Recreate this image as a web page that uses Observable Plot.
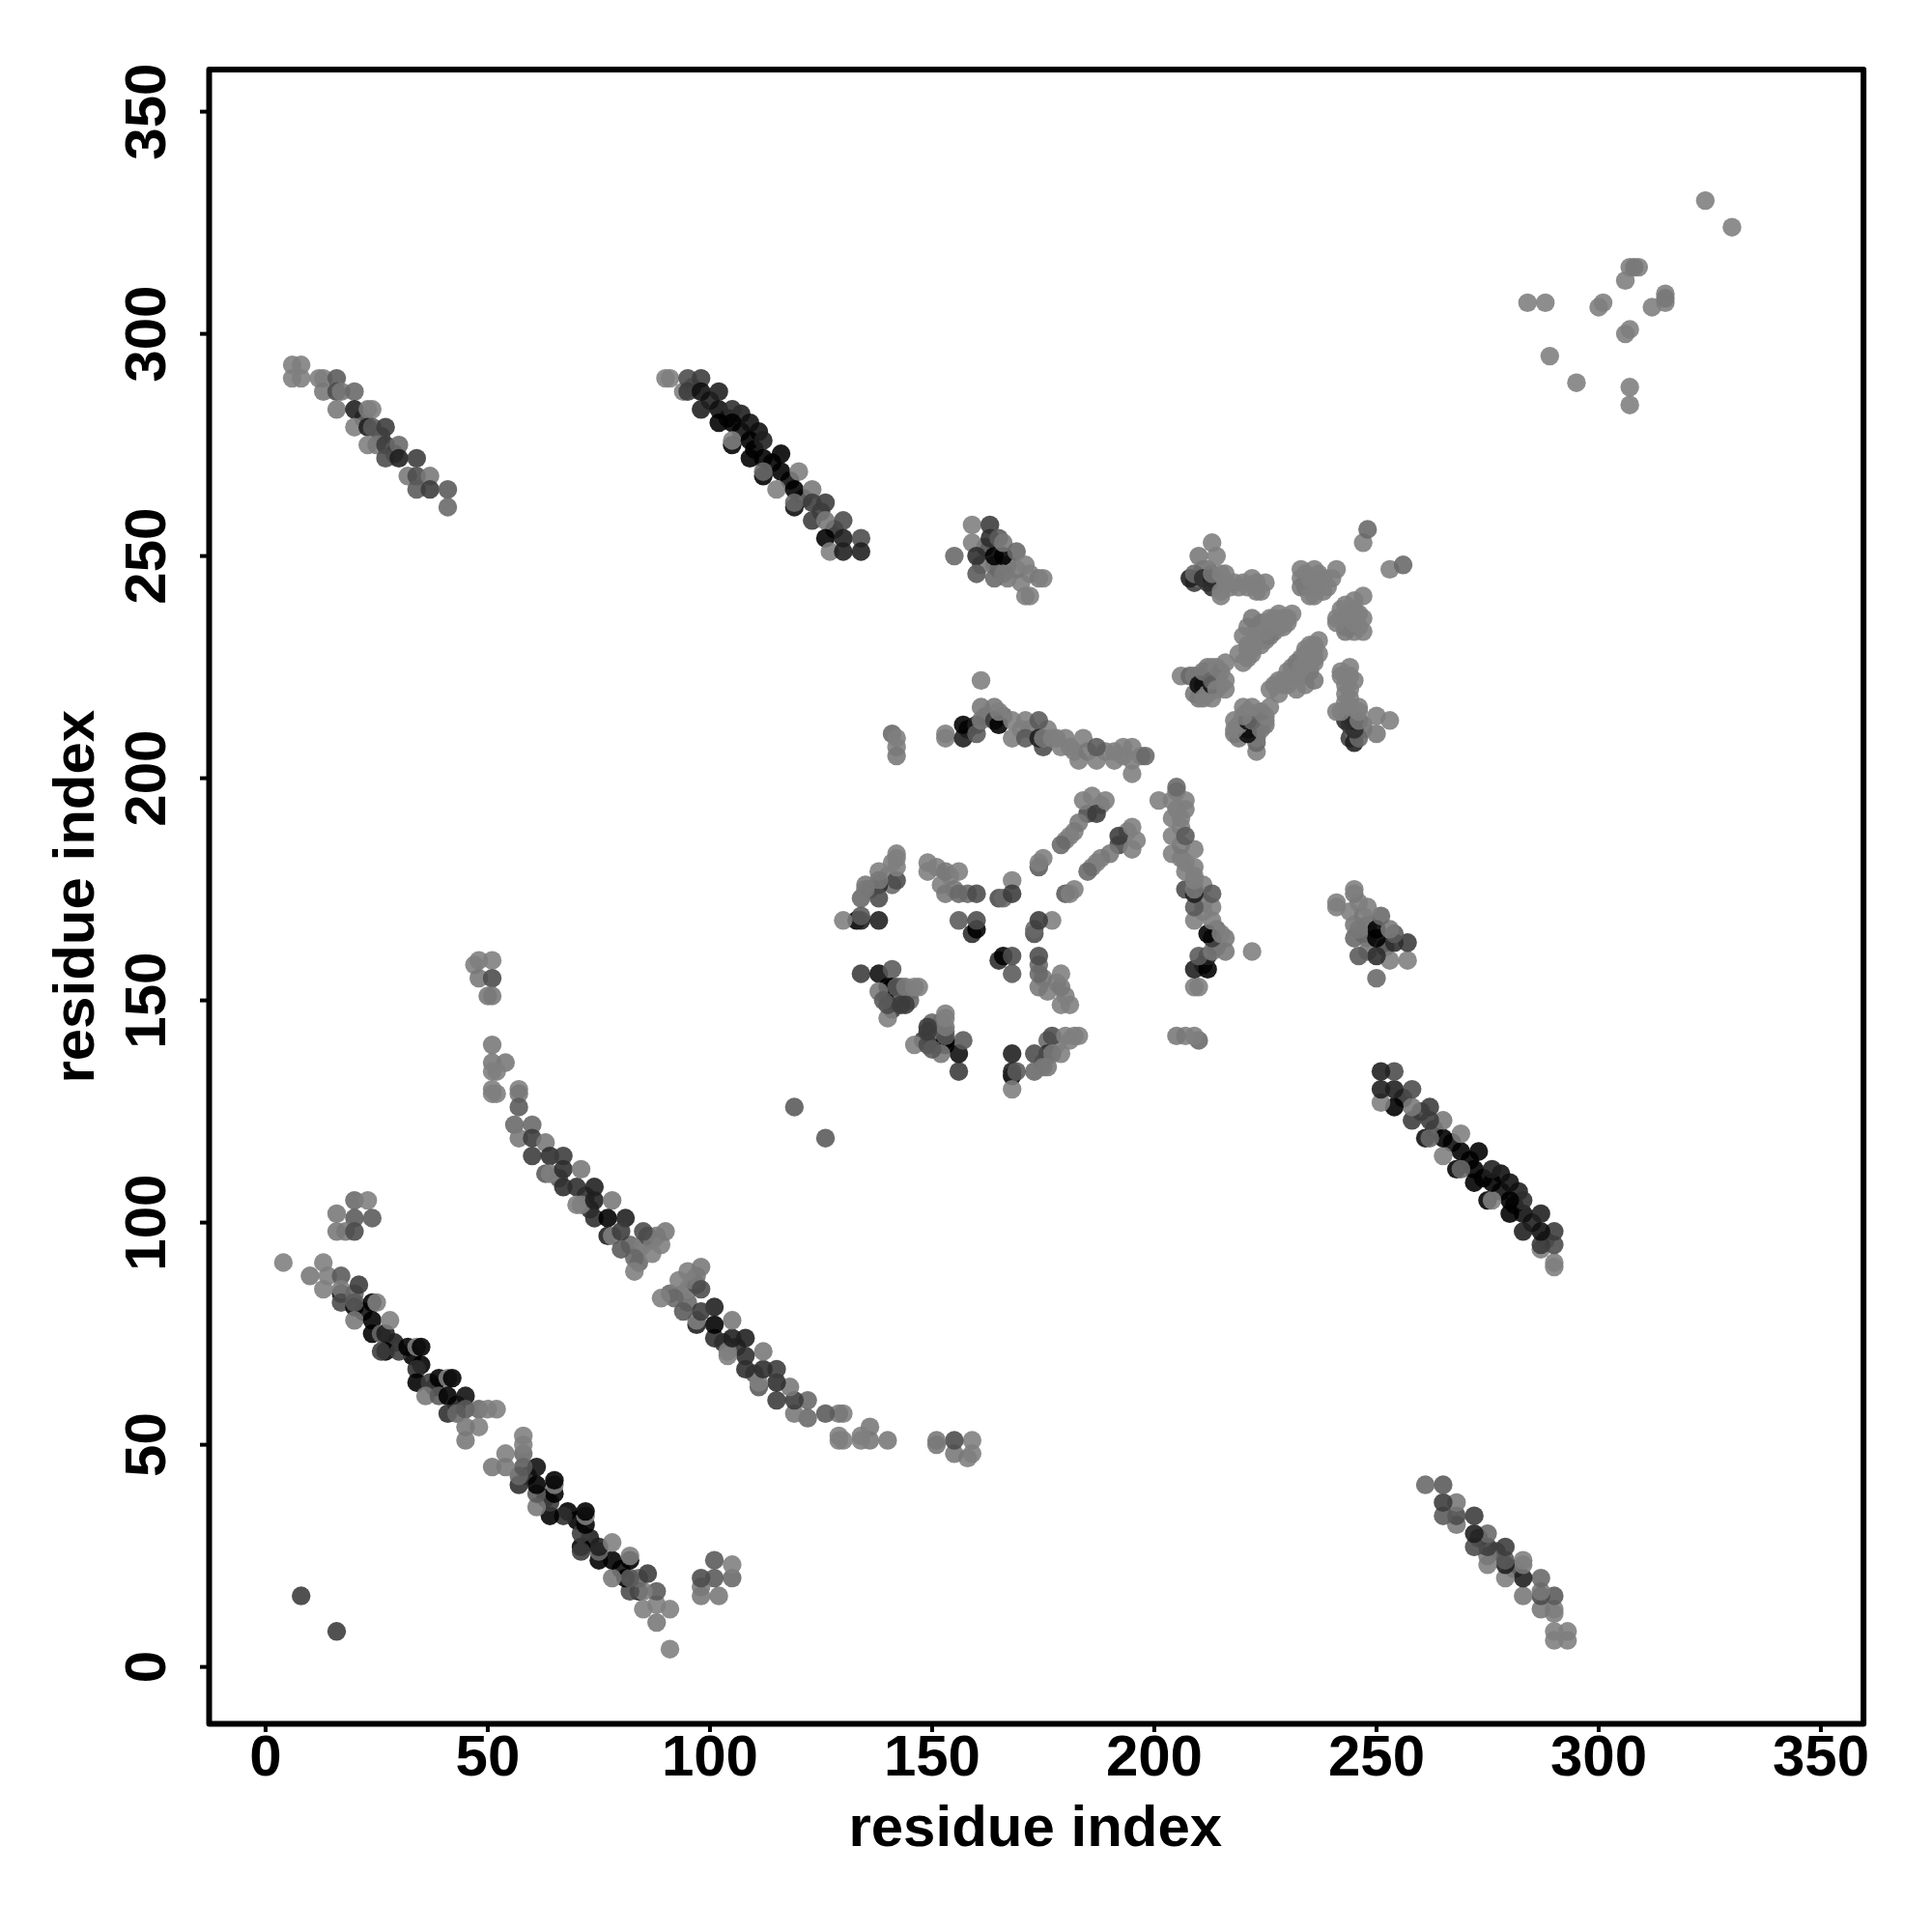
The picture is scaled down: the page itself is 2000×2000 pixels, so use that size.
<!DOCTYPE html>
<html>
<head>
<meta charset="utf-8">
<script src="https://cdn.jsdelivr.net/npm/d3@7"></script>
<script src="https://cdn.jsdelivr.net/npm/@observablehq/plot@0.6"></script>
<style>
html,body{margin:0;padding:0;background:#fff}
svg{display:block;overflow:visible}
</style>
</head>
<body>
<div id="chart"></div>
<script>
// Each contact is [residue i, residue j, score]; i < j, the map is symmetric.
// score: 0 = weakest (lightest) ... 10 = strongest (darkest)
const underlying = [[22,281,5],[26,277,5],[29,273,4],[96,288,6],[100,285,8],[104,281,9],[107,278,9],[107,282,8],[111,278,9],[110,274,10],[114,271,10],[118,267,9],[121,263,5],[125,260,6],[128,256,7],[82,95,3],[84,94,2],[85,95,1],[83,92,3],[86,97,5],[87,96,2],[88,97,2],[73,103,7],[72,106,7],[66,110,4],[22,80,9],[29,73,8],[33,70,10],[38,63,9],[43,59,8],[166,214,3],[170,211,2],[172,211,2],[176,211,1],[178,209,1],[181,207,1],[182,206,1],[189,206,1],[193,205,1],[193,207,1],[197,205,2],[162,214,2],[158,211,8],[182,188,1],[180,186,1],[188,194,1],[175,182,1],[221,230,1],[223,234,1],[224,235,1],[225,231,1],[227,233,1],[229,236,1],[227,236,1],[225,235,1],[221,234,1],[219,228,1],[221,229,1],[234,246,1],[236,243,1],[234,243,1],[237,246,1],[238,245,1],[240,245,1],[236,241,1],[212,247,2],[212,244,6],[214,244,7],[216,246,1],[218,244,1],[219,243,1],[220,244,1],[223,244,1],[211,247,1],[209,244,6],[210,245,3],[210,223,1],[212,223,2],[212,225,2],[214,223,2],[215,221,1],[213,225,1],[209,219,2],[210,218,2],[213,218,1],[161,248,2],[162,252,5],[164,248,2],[165,247,3],[167,248,2],[167,245,2],[170,244,1],[172,246,1],[141,150,5],[142,151,3],[140,151,8],[141,148,6],[143,152,1],[145,152,1],[145,150,3],[143,153,3],[136,175,4],[141,176,3],[140,178,1],[141,181,1],[152,176,1],[151,180,1],[154,178,1],[155,175,2],[158,174,3]];
const strandA = [[6,293,1],[8,293,1],[6,290,1],[8,290,1],[12,290,1],[13,290,1],[16,290,4],[13,287,2],[16,287,5],[17,287,2],[20,287,3],[16,283,2],[20,283,8],[23,283,2],[24,283,1],[20,279,1],[23,279,8],[24,279,4],[27,279,6],[23,275,1],[25,275,2],[27,275,6],[30,275,3],[27,272,5],[30,272,8],[34,272,6],[32,268,2],[34,268,5],[37,268,2],[34,265,4],[37,265,6],[41,265,4],[41,261,3]];
const strandB = [[90,290,0],[91,290,0],[94,287,1],[95,290,5],[98,290,6],[95,287,6],[98,283,8],[98,287,9],[102,287,8],[102,283,9],[105,283,7],[102,280,10],[105,280,10],[109,280,9],[105,275,10],[105,276,1],[109,276,10],[112,276,8],[109,272,10],[112,272,10],[116,273,10],[116,269,10],[112,268,10],[112,269,3],[120,269,1],[115,265,1],[119,265,10],[119,261,9],[119,262,3],[123,265,2],[123,262,6],[126,262,6],[123,258,6],[126,258,2],[130,258,5],[126,254,10],[130,254,8],[134,254,5],[127,251,1],[130,251,8],[134,251,8]];
const strandC = [[47,158,1],[48,159,1],[51,159,1],[48,155,2],[51,155,5],[50,151,2],[51,151,2],[51,140,2],[51,136,2],[54,136,2],[51,134,1],[52,134,1],[51,129,1],[52,129,1],[51,130,1],[57,130,1],[57,129,2],[57,126,4],[56,122,3],[60,122,3],[57,119,2],[60,119,6],[60,115,6],[63,118,2],[64,115,7],[63,111,4],[64,111,1],[67,115,6],[67,112,7],[67,108,7],[71,112,2],[70,108,7],[74,108,8],[70,104,1],[71,104,1],[74,105,8],[74,101,7],[78,105,2],[77,101,10],[81,101,8],[77,97,8],[78,97,1],[80,98,6],[80,94,4],[85,98,5],[84,91,3],[83,89,1],[87,93,1],[89,95,1],[90,98,2]];
const strandD = [[4,91,1],[10,88,2],[13,91,0],[14,88,1],[13,85,1],[17,88,4],[17,84,9],[17,85,1],[17,82,5],[20,84,3],[21,86,6],[20,81,10],[20,82,4],[20,78,2],[24,82,10],[25,82,1],[24,78,10],[24,75,10],[26,75,3],[27,75,8],[28,78,0],[27,71,10],[26,71,6],[30,71,6],[32,72,10],[34,72,1],[35,72,10],[35,68,10],[34,67,7],[34,64,10],[37,64,6],[39,65,10],[41,65,1],[42,65,10],[36,61,2],[39,61,4],[41,61,10],[45,61,9],[41,57,7],[43,57,3],[45,58,4],[48,58,3],[50,58,1],[52,58,0],[48,54,1],[45,54,2],[45,51,2]];
const sidePatch = [[20,105,3],[23,105,1],[16,102,2],[20,101,4],[24,101,4],[16,98,2],[18,98,2],[20,98,5]];
const isolated = [[8,16,6],[119,126,4],[161,222,1],[141,210,3],[142,209,1],[142,207,1],[142,205,2]];
const patchE = [[155,250,3],[159,257,1],[159,253,1],[163,257,6],[163,254,7],[160,250,7],[160,246,4],[164,250,10],[166,250,10],[165,254,4],[166,253,2],[169,251,3],[164,245,3],[166,246,2],[169,247,2],[171,248,1],[174,245,2],[175,245,1],[171,241,1],[172,241,0]];
const strandF = [[153,209,1],[153,210,1],[157,209,8],[157,212,10],[160,212,8],[160,210,4],[161,216,2],[164,216,2],[161,213,2],[164,213,6],[165,212,10],[165,215,1],[168,213,1],[171,213,1],[168,209,1],[171,209,4],[174,213,4],[175,207,5],[174,209,8],[175,209,2],[177,209,1],[180,209,1],[179,207,1],[184,209,1],[183,204,1],[185,206,2],[187,204,1],[187,207,4],[191,206,1],[191,204,1],[195,201,0],[195,207,1],[195,204,1],[198,205,3]];
const strandG = [[185,192,5],[187,192,6],[184,195,1],[186,196,1],[189,195,1],[183,190,2],[181,187,1],[179,185,3],[174,180,4],[174,181,1]];
const patchH = [[142,177,5],[142,180,1],[142,182,1],[142,183,1],[138,176,7],[138,179,1],[135,176,2],[138,177,2],[138,173,5],[134,173,3],[135,175,2],[133,168,10],[134,168,8],[134,169,4],[138,168,8],[130,168,1]];
const patchJ = [[149,181,1],[149,179,1],[153,179,2],[156,179,1],[153,174,2],[156,174,3],[160,174,5],[156,168,4],[159,165,7],[160,166,10],[160,168,5],[168,177,1],[165,173,5],[166,173,3],[168,174,6]];
const patchK = [[134,156,6],[138,156,9],[141,157,4],[140,153,10],[141,153,10],[138,152,2],[142,153,4],[144,153,2],[147,153,0],[140,146,1],[144,149,6],[140,149,5],[143,149,6],[139,150,4],[146,153,1]];
const patchL = [[208,245,8],[209,246,3],[210,250,2],[213,253,1],[214,250,1],[211,245,7],[213,245,8],[213,243,7],[213,246,2],[215,246,1],[215,241,1],[215,242,1],[216,244,1],[217,243,0],[221,243,1],[222,245,1],[223,242,1],[225,244,1],[224,242,0]];
const bandM = [[220,226,1],[221,227,1],[222,228,1],[222,229,1],[220,232,1],[223,232,1],[224,230,1],[224,231,1],[226,232,2],[222,236,2],[225,233,1],[226,236,1],[228,234,1],[228,237,1],[229,234,1],[230,235,0],[230,236,0],[231,237,0]];
const patchN = [[206,223,1],[208,223,3],[209,223,2],[210,221,9],[211,221,9],[211,224,2],[211,218,1],[212,219,1],[213,221,9],[213,222,3],[214,220,1],[214,225,1],[215,224,2],[216,220,1],[216,222,1],[216,226,1]];
const patchO = [[233,247,1],[236,247,1],[241,247,1],[233,245,1],[233,243,2],[235,245,1],[235,241,1],[237,244,1],[238,242,0],[239,243,0],[247,253,1],[248,256,3]];
const patchP = [[284,307,0],[288,307,0],[289,295,0],[300,306,0],[301,307,0],[306,312,0],[307,315,0],[309,315,0],[308,315,2],[324,330,0]];

const tickValues = [0, 50, 100, 150, 200, 250, 300, 350];
const axisTitle = "residue index";

const upperContacts = [].concat(underlying, strandA, strandB, strandC, strandD, sidePatch, isolated, patchE, strandF, strandG, patchH, patchJ, patchK, patchL, bandM, patchN, patchO, patchP);
const contacts = upperContacts.flatMap(([i, j, score]) => [{i, j, score}, {i: j, j: i, score}]);

const font = "'Liberation Sans', Arial, sans-serif";
const chart = Plot.plot({
  width: 2000,
  height: 2000,
  marginLeft: 216,
  marginRight: 71.4,
  marginTop: 71.4,
  marginBottom: 216,
  style: {fontFamily: font, fontWeight: "bold", background: "#fff"},
  x: {domain: [-12.7, 359.6]},
  y: {domain: [-12.8, 359.5]},
  color: {type: "linear", domain: [1.5, 10], clamp: true, range: ["#7f7f7f", "#000000"], legend: false},
  marks: [
    Plot.dot(contacts, {x: "i", y: "j", fill: "score", r: 9.7, fillOpacity: 0.89, stroke: "none"}),
    Plot.frame({stroke: "#000", strokeWidth: 6, strokeLinejoin: "round"}),
    Plot.axisX(tickValues, {anchor: "bottom", label: null, tickSize: 9, tickPadding: 2, fontSize: 60, fontWeight: "bold", strokeWidth: 4, stroke: "#000", fill: "#000", tickFormat: d => String(d)}),
    Plot.axisY(tickValues, {anchor: "left", label: null, tickSize: 9, tickPadding: 37, fontSize: 60, fontWeight: "bold", strokeWidth: 4, stroke: "#000", fill: "#000", tickRotate: -90, textAnchor: "middle", lineAnchor: "bottom", tickFormat: d => String(d)}),
    Plot.text([axisTitle], {frameAnchor: "bottom", dx: -1, dy: 126, lineAnchor: "bottom", fontSize: 60, fontWeight: "bold", fill: "#000"}),
    Plot.text([axisTitle], {frameAnchor: "left", rotate: -90, dx: -120, dy: 0, textAnchor: "middle", lineAnchor: "bottom", fontSize: 60, fontWeight: "bold", fill: "#000"})
  ]
});
document.getElementById("chart").appendChild(chart);
</script>
</body>
</html>
